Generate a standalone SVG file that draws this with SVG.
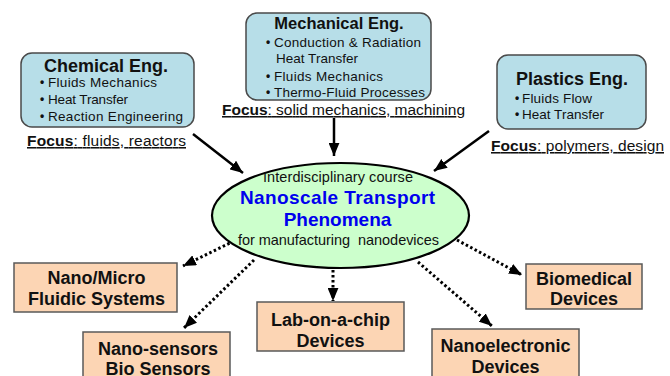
<svg xmlns="http://www.w3.org/2000/svg" width="670" height="376" viewBox="0 0 670 376">
<defs>
<style>
text{font-family:"Liberation Sans",Arial,sans-serif;fill:#111}
.dept{fill:#b7dee8;stroke:#4a4a4a;stroke-width:1.5}
.app{fill:#fcd5b4;stroke:#595959;stroke-width:1.5}
.title{font-weight:bold;text-anchor:middle}
.item{font-size:13.5px}
.bul{font-size:12px;text-anchor:middle;font-weight:bold}
.focus{font-size:15.5px;text-decoration:underline}
.fb{font-weight:bold}
.apt{font-size:18px;font-weight:bold;text-anchor:middle}
.solid{stroke:#000;stroke-width:2.5;fill:none}
.dot{stroke:#000;stroke-width:3;fill:none;stroke-dasharray:2.5 2.5}
</style>
<marker id="ah" viewBox="0 0 12 10" refX="12" refY="5" markerWidth="13" markerHeight="11" markerUnits="userSpaceOnUse" orient="auto">
<path d="M0,0 L12,5 L0,10 Z" fill="#000"/>
</marker>
</defs>

<g id="connectors">
<line class="solid" x1="193" y1="134" x2="243" y2="173" marker-end="url(#ah)"/>
<line class="solid" x1="334" y1="118" x2="334" y2="156" marker-end="url(#ah)"/>
<line class="solid" x1="489" y1="131" x2="434" y2="171" marker-end="url(#ah)"/>
<line class="dot" x1="234" y1="241" x2="183" y2="266" marker-end="url(#ah)"/>
<line class="dot" x1="254" y1="260" x2="184" y2="328" marker-end="url(#ah)"/>
<line class="dot" x1="333" y1="270" x2="333" y2="301" marker-end="url(#ah)"/>
<line class="dot" x1="418" y1="262" x2="492" y2="326" marker-end="url(#ah)"/>
<line class="dot" x1="457" y1="240" x2="522" y2="275" marker-end="url(#ah)"/>
</g>

<g id="chemical">
<rect class="dept" x="21" y="53" width="173" height="74" rx="11"/>
<text class="title" x="106" y="72" font-size="18">Chemical Eng.</text>
<text class="bul" x="42" y="86">•</text>
<text class="item" x="48" y="87" textLength="109" lengthAdjust="spacing">Fluids Mechanics</text>
<text class="bul" x="42" y="103">•</text>
<text class="item" x="48" y="104" textLength="80" lengthAdjust="spacing">Heat Transfer</text>
<text class="bul" x="42" y="120">•</text>
<text class="item" x="48" y="121" textLength="135" lengthAdjust="spacing">Reaction Engineering</text>
<text class="focus" x="27" y="146" textLength="159" lengthAdjust="spacing"><tspan class="fb">Focus</tspan>: fluids, reactors</text>
</g>

<g id="mechanical">
<rect class="dept" x="246" y="13" width="185" height="87" rx="11"/>
<text class="title" x="339" y="29" font-size="16.5">Mechanical Eng.</text>
<text class="bul" x="268" y="46">•</text>
<text class="item" x="274" y="47" textLength="147" lengthAdjust="spacing">Conduction &amp; Radiation</text>
<text class="item" x="276" y="63" textLength="82" lengthAdjust="spacing">Heat Transfer</text>
<text class="bul" x="268" y="80">•</text>
<text class="item" x="274" y="81" textLength="109" lengthAdjust="spacing">Fluids Mechanics</text>
<text class="bul" x="268" y="96">•</text>
<text class="item" x="274" y="97" textLength="151" lengthAdjust="spacing">Thermo-Fluid Processes</text>
<text class="focus" x="222" y="115" textLength="243" lengthAdjust="spacing"><tspan class="fb">Focus</tspan>: solid mechanics, machining</text>
</g>

<g id="plastics">
<rect class="dept" x="497" y="55" width="149" height="74" rx="11"/>
<text class="title" x="572" y="85" font-size="18">Plastics Eng.</text>
<text class="bul" x="517" y="102">•</text>
<text class="item" x="522" y="103" textLength="70" lengthAdjust="spacing">Fluids Flow</text>
<text class="bul" x="517" y="118">•</text>
<text class="item" x="522" y="119" textLength="82" lengthAdjust="spacing">Heat Transfer</text>
<text class="focus" x="491" y="151" textLength="173" lengthAdjust="spacing"><tspan class="fb">Focus</tspan>: polymers, design</text>
</g>

<g id="course">
<ellipse cx="340.5" cy="215.5" rx="128.5" ry="52.5" fill="#ccffcc" stroke="#000" stroke-width="2.2"/>
<text x="338" y="182" font-size="14.5" text-anchor="middle" textLength="150" lengthAdjust="spacing">Interdisciplinary course</text>
<text x="337.5" y="204" font-size="19" font-weight="bold" text-anchor="middle" style="fill:#0000ee" textLength="195" lengthAdjust="spacing">Nanoscale Transport</text>
<text x="337.5" y="226" font-size="19" font-weight="bold" text-anchor="middle" style="fill:#0000ee">Phenomena</text>
<text x="338.5" y="245" font-size="14.5" text-anchor="middle" textLength="201" lengthAdjust="spacing" xml:space="preserve">for manufacturing  nanodevices</text>
</g>

<g id="nanomicro">
<rect class="app" x="14" y="263" width="163" height="49"/>
<text class="apt" x="96.5" y="284">Nano/Micro</text>
<text class="apt" x="96.5" y="305">Fluidic Systems</text>
</g>

<g id="nanosensors">
<rect class="app" x="83" y="332" width="147" height="60"/>
<text class="apt" x="158" y="355">Nano-sensors</text>
<text class="apt" x="158" y="375">Bio Sensors</text>
</g>

<g id="labonchip">
<rect class="app" x="257" y="302" width="147" height="49"/>
<text class="apt" x="330.5" y="326">Lab-on-a-chip</text>
<text class="apt" x="330.5" y="347">Devices</text>
</g>

<g id="biomedical">
<rect class="app" x="526" y="264" width="116" height="45"/>
<text class="apt" x="584" y="285">Biomedical</text>
<text class="apt" x="584" y="305">Devices</text>
</g>

<g id="nanoelectronic">
<rect class="app" x="432" y="329" width="147" height="60"/>
<text class="apt" x="505.5" y="352">Nanoelectronic</text>
<text class="apt" x="505.5" y="373">Devices</text>
</g>
</svg>
